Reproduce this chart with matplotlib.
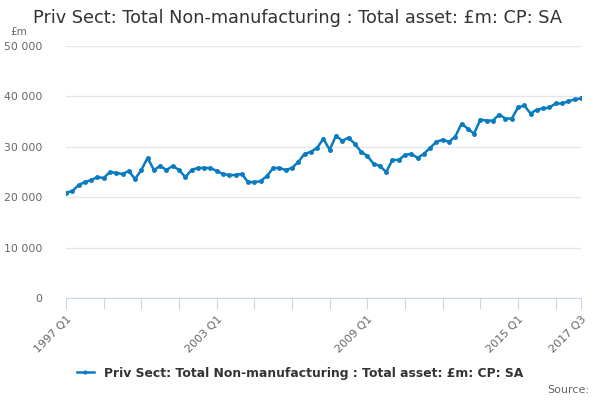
import matplotlib
matplotlib.use("Agg")
import matplotlib.pyplot as plt
from matplotlib.ticker import FuncFormatter

values = [20900, 21200, 22400, 23000, 23400, 24000, 23800, 25000, 24800, 24600,
          25200, 23600, 25400, 27800, 25400, 26200, 25400, 26200, 25400, 24000,
          25400, 25800, 25800, 25800, 25200, 24600, 24400, 24400, 24600, 23000,
          23000, 23200, 24200, 25800, 25800, 25400, 25800, 27000, 28600, 29000,
          29800, 31600, 29400, 32200, 31200, 31800, 30600, 29000, 28200, 26600,
          26200, 25000, 27400, 27400, 28400, 28600, 27800, 28600, 29800, 31000,
          31400, 31000, 32000, 34600, 33600, 32600, 35400, 35200, 35200, 36400,
          35600, 35600, 37800, 38200, 36600, 37400, 37600, 37800, 38600, 38600,
          39000, 39400, 39600]
start_year = 1997
quarters = [f"{start_year + i // 4} Q{i % 4 + 1}" for i in range(len(values))]
series_name = "Priv Sect: Total Non-manufacturing : Total asset: £m: CP: SA"
yticks = [0, 10000, 20000, 30000, 40000, 50000]

plt.rcParams['font.family'] = ['DejaVu Sans']
fig = plt.figure(figsize=(6, 4), dpi=100)
ax = fig.add_axes([0.11, 0.255, 0.858, 0.63])
x = list(range(len(values)))
ax.plot(x, values, color="#0a7bc1", lw=1.8, marker="o", ms=2.5, label=series_name)
ax.set_xlim(0, len(values) - 1)
ax.set_ylim(0, 50000)
ax.set_yticks(yticks)
ax.yaxis.set_major_formatter(FuncFormatter(lambda v, p: f"{int(v):,}".replace(",", " ")))
ax.grid(axis="y", color="#e6e6e6", lw=1)
ax.set_axisbelow(True)
for s in ["top", "right", "left"]:
    ax.spines[s].set_visible(False)
ax.spines["bottom"].set_color("#ccd6eb")
ax.tick_params(axis="y", length=0, colors="#666666", labelsize=7.8, pad=17)
tick_pos = list(range(0, len(values), 6)) + [len(values) - 1]
ax.set_xticks(tick_pos)
labels = [quarters[i] if (i % 24 == 0 or i == len(values) - 1) else "" for i in tick_pos]
ax.set_xticklabels(labels, rotation=45, ha="right", rotation_mode="anchor")
ax.tick_params(axis="x", length=8, color="#ccd6eb", colors="#666666", labelsize=8)
fig.text(0.055, 0.955, series_name, fontsize=12.7, color="#333333", va="center", ha="left")
fig.text(0.018, 0.92, "£m", fontsize=7.5, color="#666666", va="center")
leg = fig.legend(loc="center", bbox_to_anchor=(0.5, 0.067), frameon=False, fontsize=8.9,
                 handlelength=1.4, markerscale=0.8)
for t in leg.get_texts():
    t.set_fontweight("bold")
    t.set_color("#333333")
fig.text(0.982, 0.025, "Source:", fontsize=8, color="#666666", ha="right", va="center")
fig.savefig("out.png", dpi=100)
